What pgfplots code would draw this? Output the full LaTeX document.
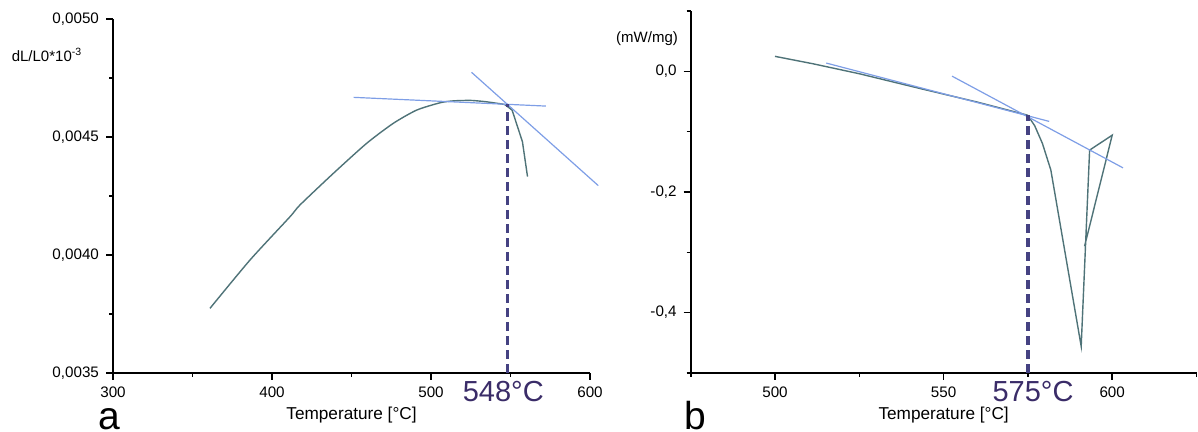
\documentclass[border=0pt]{standalone}
\usepackage{pgfplots}
\pgfplotsset{compat=1.18}
\usepackage{fontspec}
\setmainfont{Liberation Sans}
\definecolor{curvecol}{HTML}{4F7378}
\definecolor{tangcol}{HTML}{7E9EE6}
\definecolor{dashcol}{HTML}{454282}
\definecolor{lblcol}{HTML}{3A2C68}
\pgfplotsset{
  common/.style={
    scale only axis,
    anchor=south west,
    axis lines=left,
    axis line style={-, black, line width=1pt},
    tick align=outside,
    major tick length=3.5pt,
    minor tick length=2pt,
    every tick/.style={black, line width=0.8pt},
    tick label style={font=\fontsize{7.6}{8}\selectfont},
    scaled ticks=false,
    clip=false,
  }
}
\begin{document}
\begin{tikzpicture}
\path[use as bounding box] (0,0) rectangle (599pt,216pt);
% ---- panel a
\begin{axis}[common,
  at={(56.5pt,29.5pt)}, width=238.5pt, height=177pt,
  xmin=300, xmax=600, ymin=0.0035, ymax=0.0050,
  xtick={300,400,500,600}, xticklabels={300,400,500,600},
  minor xtick={350,450,550},
  ytick={0.0035,0.0040,0.0045,0.0050},
  yticklabels={{0,0035},{0,0040},{0,0045},{0,0050}},
  minor ytick={0.00375,0.00425,0.00475},
]
\addplot[curvecol, line width=0.7pt, smooth, tension=0.4] coordinates {
 (361,0.003774) (386.2,0.003979) (411.3,0.004162) (417.6,0.004212)
 (438.6,0.004346) (459.5,0.004473) (476.3,0.004558) (491,0.004614)
 (505.7,0.004645) (514,0.004653) (525,0.004655) (535,0.004649) (546.3,0.004638)};
\addplot[curvecol, line width=0.7pt] coordinates {
 (546.3,0.004638) (551,0.004614) (557.5,0.00448) (560.7,0.004332)};
\addplot[tangcol, line width=0.6pt] coordinates {(451.3,0.004668) (572.3,0.004631)};
\addplot[tangcol, line width=0.6pt] coordinates {(525.5,0.004774) (605.2,0.004294)};
\addplot[dashcol, line width=1.6pt, dash pattern=on 4.5pt off 2.5pt] coordinates {(548,0.0035) (548,0.00464)};
\end{axis}
% ---- panel b
\begin{axis}[common,
  at={(345.35pt,29.5pt)}, width=252.9pt, height=181pt,
  xmin=475, xmax=625, ymin=-0.5, ymax=0.1,
  xtick={500,550,600}, xticklabels={500,550,600},
  minor xtick={475,525,575,625},
  ytick={-0.4,-0.2,0.0},
  yticklabels={{-0,4},{-0,2},{0,0}},
  minor ytick={-0.5,-0.3,-0.1,0.1},
]
\addplot[curvecol, line width=0.7pt] coordinates {
 (500,0.0248) (511.1,0.0127) (525,-0.004) (543.1,-0.0286) (560,-0.051) (574.9,-0.0727)
 (577,-0.09) (579.3,-0.1195) (581.8,-0.1636) (590.8,-0.4557) (593.3,-0.1306)
 (600,-0.1058) (591.8,-0.290)};
\addplot[tangcol, line width=0.6pt] coordinates {(515.2,0.0137) (581.3,-0.083)};
\addplot[tangcol, line width=0.6pt] coordinates {(552.5,-0.008) (603.2,-0.160)};
\addplot[dashcol, line width=1.6pt, dash pattern=on 4.5pt off 2.5pt] coordinates {(575,-0.5) (575,-0.0727)};
\end{axis}
% ---- texts
\node[font=\fontsize{7.5}{9}\selectfont] at (23.5pt,188.5pt) {dL/L0*10\textsuperscript{-3}};
\node[font=\fontsize{7.5}{9}\selectfont] at (323.5pt,196.5pt) {(mW/mg)};
\node[font=\fontsize{8.6}{10}\selectfont] at (175.75pt,8.5pt) {Temperature [°C]};
\node[font=\fontsize{8.6}{10}\selectfont] at (471.8pt,8.5pt) {Temperature [°C]};
\node[font=\fontsize{14.5}{16}\selectfont, text=lblcol] at (251.65pt,20.15pt) {548°C};
\node[font=\fontsize{14.5}{16}\selectfont, text=lblcol] at (516.5pt,20.15pt) {575°C};
\node[font=\fontsize{19.5}{22}\selectfont, anchor=base, inner sep=0pt] at (54.5pt,1.3pt) {a};
\node[font=\fontsize{19.5}{22}\selectfont, anchor=base, inner sep=0pt] at (347.5pt,1.3pt) {b};
\end{tikzpicture}
\end{document}
